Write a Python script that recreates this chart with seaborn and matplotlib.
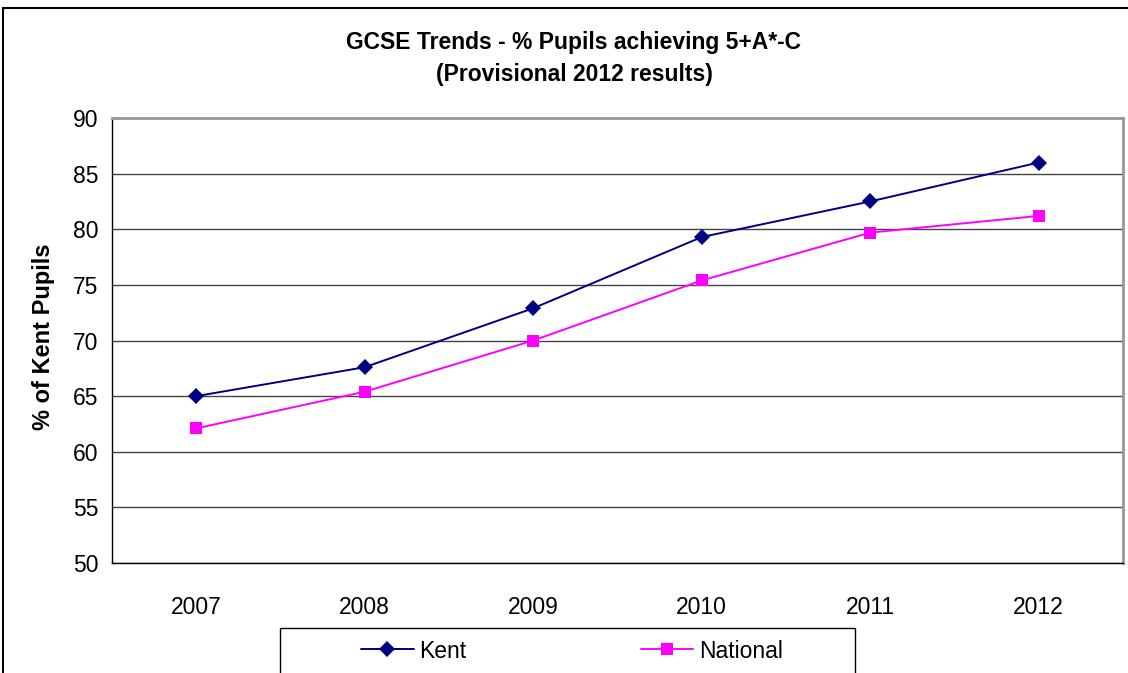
import seaborn as sns
import matplotlib.pyplot as plt
import matplotlib.patches as mpatches
import pandas as pd

# valores
anos = ["2007", "2008", "2009", "2010", "2011", "2012"]
kent = [65.0, 67.6, 72.9, 79.3, 82.5, 86.0]
national = [62.1, 65.4, 70.0, 75.4, 79.7, 81.2]

df = pd.DataFrame({
    "Ano": anos * 2,
    "Valor": kent + national,
    "Serie": ["Kent"] * len(anos) + ["National"] * len(anos),
})

sns.set_style("white")
plt.rcParams['font.family'] = ['Liberation Sans', 'DejaVu Sans']
plt.rcParams['text.color'] = 'black'
plt.rcParams['xtick.color'] = 'black'
plt.rcParams['ytick.color'] = 'black'

fig = plt.figure(figsize=(11.28, 6.73), dpi=100)
ax = fig.add_axes([112 / 1128, 1 - 563 / 673, 1011 / 1128, 445 / 673])

sns.lineplot(data=df, x="Ano", y="Valor", hue="Serie", style="Serie",
             palette={"Kent": "#000080", "National": "#FF00FF"},
             markers={"Kent": "D", "National": "s"},
             markersize=8, markeredgewidth=0, linewidth=1.4,
             dashes=False, sort=False, ax=ax)

ax.set_xlim(-0.5, len(anos) - 0.5)
ax.set_ylim(50, 90)
ax.set_yticks(range(50, 91, 5))
ax.set_xticks(range(len(anos)))
ax.set_xticklabels(anos)
ax.set_xticks([i - 0.5 for i in range(len(anos) + 1)], minor=True)
ax.tick_params(axis="x", which="major", length=0, pad=24, labelsize=16.5, labelcolor="black")
ax.tick_params(axis="x", which="minor", length=6, width=1, color="black", direction="out")
ax.tick_params(axis="y", length=6, width=1, color="black", direction="out", pad=4,
               labelsize=16.5, labelcolor="black")
ax.set_xlabel("")
ax.set_ylabel("")

ax.yaxis.grid(True, color="#444444", linewidth=1)
ax.set_axisbelow(True)
for s in ["left", "bottom"]:
    ax.spines[s].set_color("black")
    ax.spines[s].set_linewidth(1)
for s in ["top", "right"]:
    ax.spines[s].set_color("#999999")
    ax.spines[s].set_linewidth(2)

# legenda em baixo, com caixa
ax.get_legend().remove()
h, l = ax.get_legend_handles_labels()
leg = fig.legend(h, l, loc="center", bbox_to_anchor=(572 / 1128, 1 - 651 / 673),
                 ncol=2, frameon=False, fontsize=16.5, handlelength=2.3,
                 handletextpad=0.25, columnspacing=7.6)
for t in leg.get_texts():
    t.set_color("black")
fig.patches.append(mpatches.Rectangle((280 / 1128, -0.05), 575 / 1128, 0.05 + 45 / 673,
                                      transform=fig.transFigure, fill=False,
                                      edgecolor="black", linewidth=1))

# moldura exterior
fig.patches.append(mpatches.Rectangle((3 / 1128, -0.1), 1.2, 1.1 - 8 / 673,
                                      transform=fig.transFigure, fill=False,
                                      edgecolor="black", linewidth=1.5))

fig.text(574 / 1128, 1 - 59 / 673,
         "GCSE Trends - % Pupils achieving 5+A*-C\n(Provisional 2012 results)",
         ha="center", va="center", fontsize=16.5, fontweight="bold", linespacing=1.5)
fig.text(44 / 1128, 1 - 337 / 673, "% of Kent Pupils", rotation=90,
         ha="center", va="center", fontsize=17, fontweight="bold")

fig.savefig("out.png", dpi=100)
